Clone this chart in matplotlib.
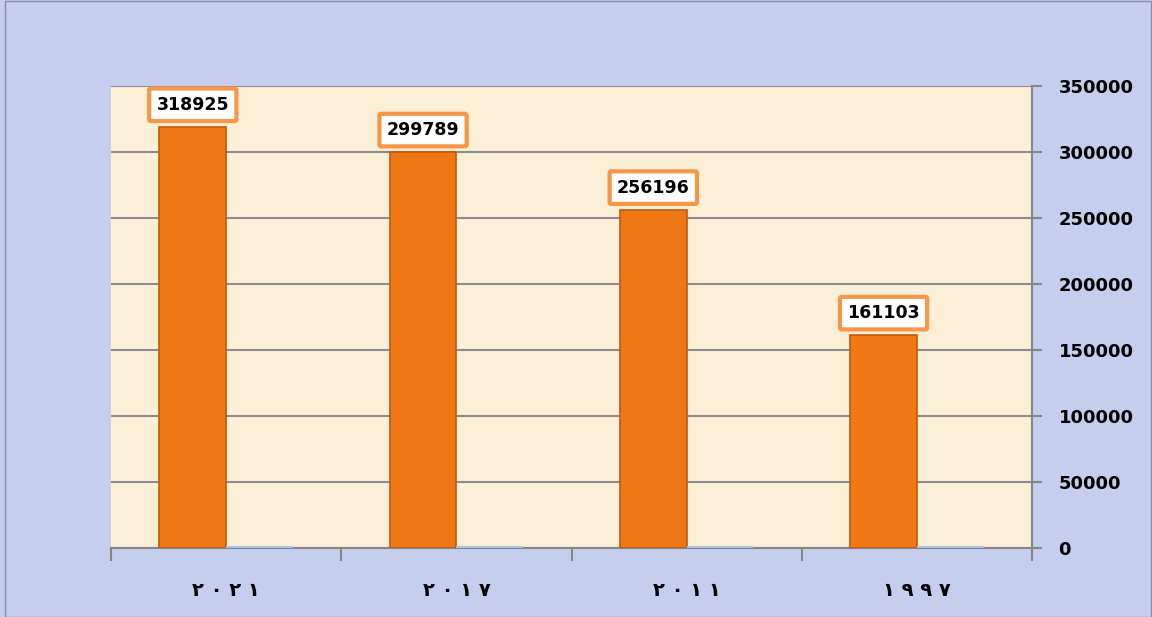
import matplotlib
matplotlib.use("Agg")
import matplotlib.pyplot as plt
from matplotlib.patches import Rectangle
import numpy as np

categories = ["٢٠٢١", "٢٠١٧", "٢٠١١", "١٩٩٧"]
values = [318925, 299789, 256196, 161103]
values_second = [1200, 1200, 1200, 1200]
yticks = [0, 50000, 100000, 150000, 200000, 250000, 300000, 350000]

fig = plt.figure(figsize=(11.52, 6.17), dpi=100)
fig.patch.set_facecolor("#C6CEEE")
fig.patches.append(Rectangle((0.004, 0.0), 0.995, 0.999, transform=fig.transFigure,
                             fill=False, edgecolor="#8A8FA8", linewidth=1.0))

ax = fig.add_axes([0.0964, 0.1118, 0.7995, 0.7488])
ax.set_facecolor("#FCEFD8")

x = np.arange(len(categories))
w = 0.29
bars = ax.bar(x - w / 2, values, width=w, color="#F07715", edgecolor="#C45A0C",
              linewidth=1.2, zorder=3)
ax.bar(x + w / 2, values_second, width=w, color="#A8C4E6", edgecolor="none", zorder=3)

for b, v in zip(bars, values):
    ax.annotate(str(v), (b.get_x() + b.get_width() / 2, v), xytext=(0, 16),
                textcoords="offset points", ha="center", va="center",
                fontsize=12.5, fontweight="bold", color="black", zorder=5,
                bbox=dict(boxstyle="round,pad=0.42,rounding_size=0.1", facecolor="white",
                          edgecolor="#F79646", linewidth=3))

ax.set_xlim(-0.5, len(categories) - 0.5)
ax.set_ylim(0, 350000)

ax.yaxis.tick_right()
ax.set_yticks(yticks)
ax.set_yticklabels([str(t) for t in yticks], fontsize=13, fontweight="bold")
ax.tick_params(axis="y", length=7, width=1.5, color="#868686", pad=12)
for lab in ax.get_yticklabels():
    lab.set_horizontalalignment("left")

ax.set_xticks(x)
ax.set_xticklabels([" ".join(c) for c in categories], fontsize=14, fontweight="bold",
                   family=["DejaVu Sans"])
ax.tick_params(axis="x", length=0, pad=24)
ax.set_xticks(np.arange(-0.5, len(categories), 1.0), minor=True)
ax.tick_params(axis="x", which="minor", length=9, width=1.5, color="#868686")

ax.yaxis.grid(True, color="#8C8C8C", linewidth=1.5, zorder=1)
ax.set_axisbelow(True)

for s in ["top", "left"]:
    ax.spines[s].set_visible(False)
for s in ["bottom", "right"]:
    ax.spines[s].set_color("#868686")
    ax.spines[s].set_linewidth(1.5)

fig.savefig("out.png", dpi=100, facecolor=fig.get_facecolor())
